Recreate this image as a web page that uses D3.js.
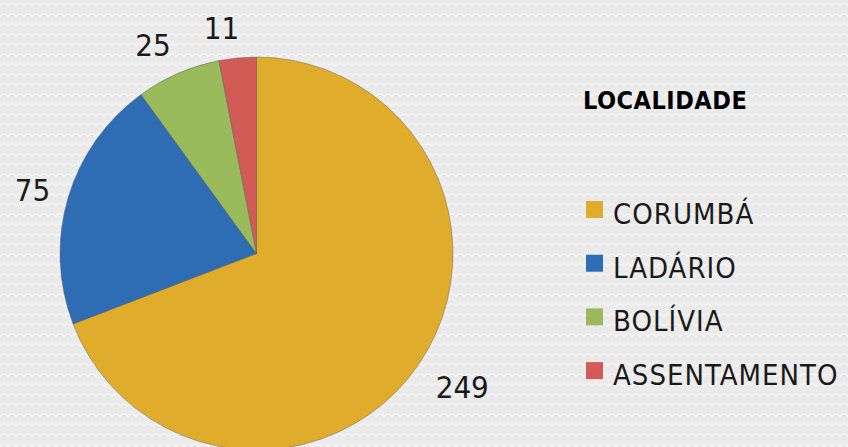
<!DOCTYPE html>
<html><head><meta charset="utf-8">
<script src="https://cdn.jsdelivr.net/npm/d3@7"></script>
<style>html,body{margin:0;padding:0;background:#e9e9e9;overflow:hidden}</style>
</head><body>
<svg id="c" width="848" height="447"></svg>
<script>
const categories = ["CORUMBÁ", "LADÁRIO", "BOLÍVIA", "ASSENTAMENTO"];
const values = [249, 75, 25, 11];
const colors = ["#e0ac2b", "#2e6db3", "#99bb5b", "#d25b57"];
const legendTitle = "LOCALIDADE";

const W = 848, H = 447;
const svg = d3.select("#c");
const font = "'DejaVu Sans Condensed', 'DejaVu Sans', sans-serif";

// background with subtle texture
const defs = svg.append("defs");
const pat = defs.append("pattern").attr("id","tex").attr("width",16).attr("height",10)
  .attr("patternUnits","userSpaceOnUse");
pat.append("rect").attr("width",16).attr("height",10).attr("fill","#ebebeb");
pat.append("path").attr("d","M0,7 Q4,1 8,7 Q12,1 16,7").attr("fill","none")
  .attr("stroke","#f5f5f5").attr("stroke-width",1.6);
pat.append("path").attr("d","M0,8.5 Q4,2.5 8,8.5 Q12,2.5 16,8.5").attr("fill","none")
  .attr("stroke","#e0e0e0").attr("stroke-width",0.7);
svg.append("rect").attr("width",W).attr("height",H).attr("fill","url(#tex)");

const cx = 256.5, cy = 253.5, R = 196.5;
const data = categories.map((c,i)=>({cat:c, value:values[i], color:colors[i]}));
const pie = d3.pie().value(d=>d.value).sort(null);
const arc = d3.arc().innerRadius(0).outerRadius(R);
const arcs = pie(data);

const g = svg.append("g").attr("transform",`translate(${cx},${cy})`);
g.selectAll("path").data(arcs).join("path")
  .attr("d",arc).attr("fill",d=>d.data.color)
  .attr("stroke","rgba(90,90,90,0.55)").attr("stroke-width",0.8);

// labels outside
const labR = 222;
g.selectAll("text.lab").data(arcs).join("text").attr("class","lab")
  .text(d=>d.data.value)
  .attr("font-family",font).attr("font-size",31).attr("fill","#1a1a1a")
  .attr("text-anchor","middle")
  .each(function(d){
    const a = (d.startAngle+d.endAngle)/2;
    const sx = Math.sin(a), sy = -Math.cos(a);
    const bb = this.getBBox();
    const x = sx*labR + sx*bb.width/2 - 13*Math.abs(sy) + 10*Math.abs(sx);
    const y = sy*labR + (sy<0 ? sy*6 : sy*12);
    d3.select(this).attr("x",x).attr("y",y+12);
  });

// legend
const lg = svg.append("g");
lg.append("text").attr("x",583).attr("y",109).text(legendTitle)
  .attr("font-family",font).attr("font-weight","bold").attr("font-size",25)
  .attr("letter-spacing",0.5).attr("fill","#000");
const rows = lg.selectAll("g.row").data(data).join("g").attr("class","row")
  .attr("transform",(d,i)=>`translate(586,${201+i*53.7})`);
rows.append("rect").attr("width",17).attr("height",17).attr("fill",d=>d.color);
rows.append("text").attr("x",27).attr("y",23).text(d=>d.cat)
  .attr("font-family",font).attr("font-size",29).attr("letter-spacing",1).attr("fill","#1a1a1a");
</script>
</body></html>
